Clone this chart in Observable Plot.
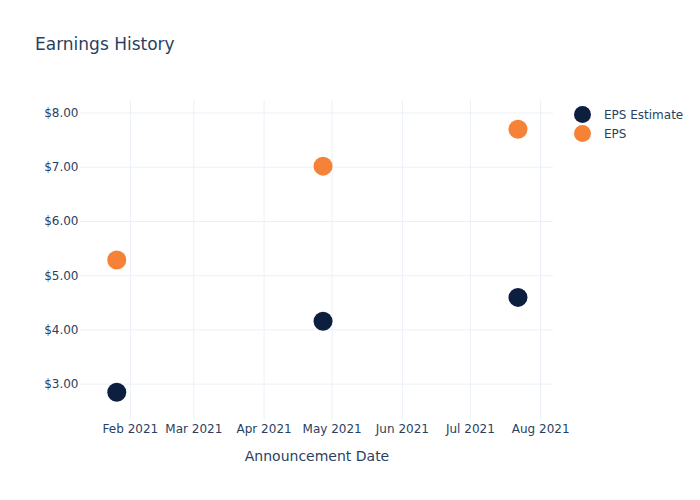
<!DOCTYPE html>
<html>
<head>
<meta charset="utf-8">
<script src="https://cdn.jsdelivr.net/npm/d3@7"></script>
<script src="https://cdn.jsdelivr.net/npm/@observablehq/plot@0.6"></script>
<style>
  html, body { margin: 0; padding: 0; background: #fff; }
  #wrap { position: relative; width: 700px; height: 500px; font-family: "DejaVu Sans", sans-serif; color: #2a3f5f; }
  #title { position: absolute; left: 35px; top: 34px; font-size: 17px; }
  #legend { position: absolute; left: 574px; top: 105px; font-size: 12px; }
  .li { display: flex; align-items: center; height: 19px; }
  .sw { width: 17px; height: 17px; border-radius: 50%; margin-right: 13px; }
  g[aria-label="x-axis label"] text { font-size: 14px; }
</style>
</head>
<body>
<div id="wrap">
  <div id="title">Earnings History</div>
  <div id="legend"></div>
</div>
<script>
const dates = ["2021-01-26", "2021-04-27", "2021-07-22"];
const epsEstimate = [2.85, 4.16, 4.60];
const eps = [5.29, 7.02, 7.70];
const seriesNames = ["EPS Estimate", "EPS"];
const seriesColors = ["#0d1f3f", "#f68237"];

const rows = [];
dates.forEach((d, i) => {
  rows.push({date: new Date(d), value: epsEstimate[i], series: seriesNames[0]});
  rows.push({date: new Date(d), value: eps[i], series: seriesNames[1]});
});

const chart = Plot.plot({
  width: 700,
  height: 500,
  marginLeft: 80,
  marginRight: 147,
  marginTop: 100,
  marginBottom: 80,
  style: {fontFamily: "DejaVu Sans, sans-serif", fontSize: "12px", color: "#2a3f5f", background: "transparent"},
  x: {type: "utc", domain: [new Date("2021-01-10"), new Date("2021-08-06T16:00")]},
  y: {domain: [2.33, 8.23]},
  color: {domain: seriesNames, range: seriesColors},
  marks: [
    Plot.gridX({ticks: d3.utcMonth.every(1), stroke: "#ebf0f8", strokeOpacity: 1}),
    Plot.gridY({ticks: [3, 4, 5, 6, 7, 8], stroke: "#ebf0f8", strokeOpacity: 1}),
    Plot.axisX({ticks: d3.utcMonth.every(1), tickFormat: d3.utcFormat("%b %Y"), tickSize: 0, tickPadding: 4,
      label: "Announcement Date", labelAnchor: "center", labelArrow: "none", labelOffset: 40}),
    Plot.axisY({ticks: [3, 4, 5, 6, 7, 8], tickFormat: d => "$" + d.toFixed(2), tickSize: 0, tickPadding: 2, label: null}),
    Plot.dot(rows, {x: "date", y: "value", fill: "series", r: 9.5})
  ]
});
document.getElementById("wrap").appendChild(chart);
chart.style.position = "absolute";
chart.style.left = "0";
chart.style.top = "0";

const legend = document.getElementById("legend");
seriesNames.forEach((n, i) => {
  const li = document.createElement("div");
  li.className = "li";
  li.innerHTML = `<span class="sw" style="background:${seriesColors[i]}"></span><span>${n}</span>`;
  legend.appendChild(li);
});
</script>
</body>
</html>
